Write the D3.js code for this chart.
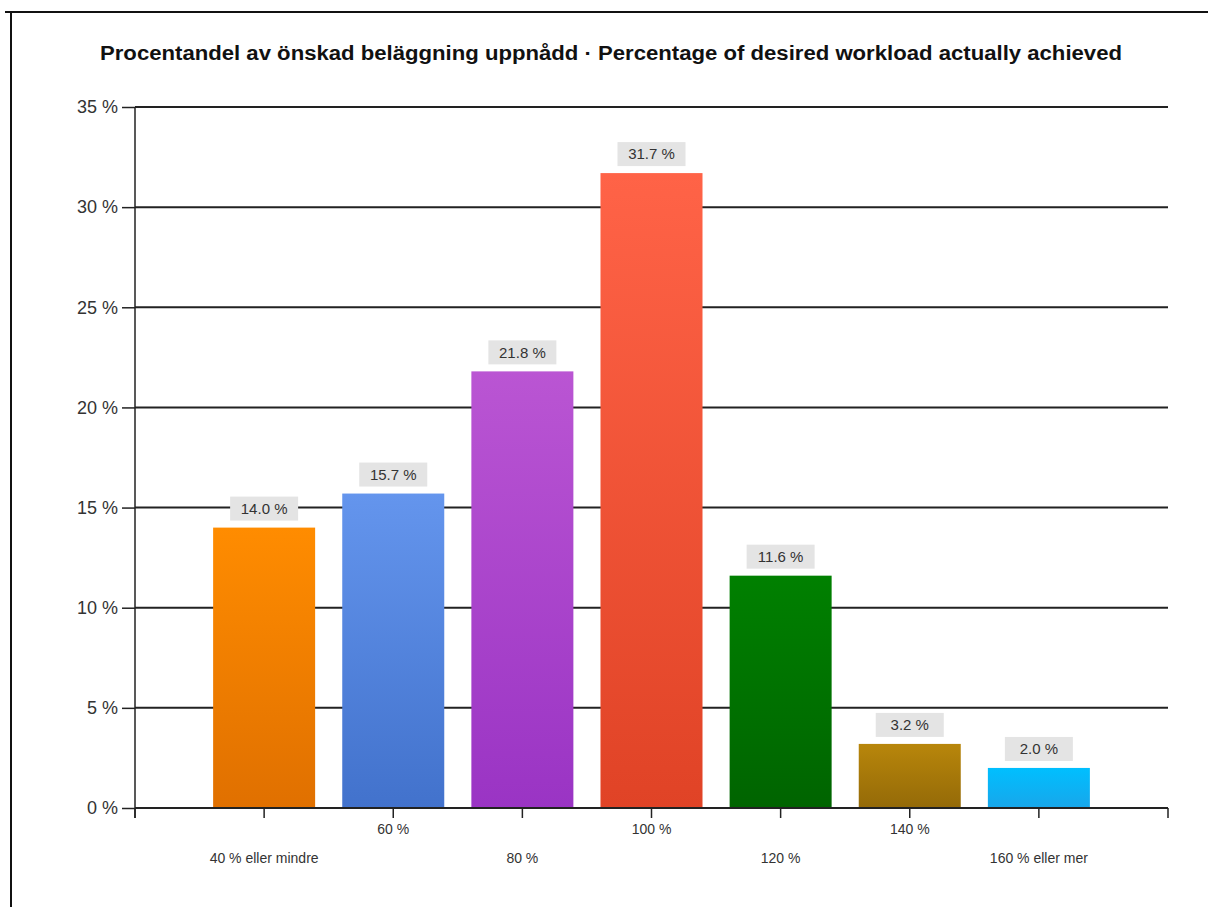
<!DOCTYPE html>
<html>
<head>
<meta charset="utf-8">
<script src="https://cdn.jsdelivr.net/npm/d3@7/dist/d3.min.js"></script>
<style>
  html, body { margin: 0; padding: 0; background: #fff; }
  svg { display: block; font-family: "Liberation Sans", Arial, sans-serif; }
</style>
</head>
<body>
<svg id="chart" width="1208" height="907"></svg>
<script>
// Workload achieved vs. desired, share of respondents
const categories = ["40 % eller mindre", "60 %", "80 %", "100 %", "120 %", "140 %", "160 % eller mer"];
const values = [14.0, 15.7, 21.8, 31.7, 11.6, 3.2, 2.0];
const colorsTop = ["#ff8c00", "#6495ed", "#ba55d3", "#ff6347", "#008000", "#b8860b", "#00bfff"];
const colorsBottom = ["#e07000", "#4272cc", "#9a34c4", "#e04326", "#006400", "#946a08", "#18a6ea"];
const yTicks = [0, 5, 10, 15, 20, 25, 30, 35];
const title = "Procentandel av önskad beläggning uppnådd · Percentage of desired workload actually achieved";

const svg = d3.select("#chart");

// outer frame (top and left edges are visible)
svg.append("line").attr("x1", 5).attr("x2", 1208).attr("y1", 12).attr("y2", 12)
  .attr("stroke", "#111").attr("stroke-width", 2);
svg.append("line").attr("x1", 11).attr("x2", 11).attr("y1", 12).attr("y2", 907)
  .attr("stroke", "#111").attr("stroke-width", 2);

const plot = { left: 135, right: 1168, top: 107, bottom: 808 };

const x = d3.scaleLinear().domain([0, categories.length + 1]).range([plot.left, plot.right]);
const y = d3.scaleLinear().domain([0, 35]).range([plot.bottom, plot.top]);
const step = x(1) - x(0);
const barW = step * 0.79;

// gradients
const defs = svg.append("defs");
values.forEach((v, i) => {
  const g = defs.append("linearGradient").attr("id", "g" + i)
    .attr("x1", 0).attr("y1", 0).attr("x2", 0).attr("y2", 1);
  g.append("stop").attr("offset", "0%").attr("stop-color", colorsTop[i]);
  g.append("stop").attr("offset", "100%").attr("stop-color", colorsBottom[i]);
});

// title
svg.append("text").attr("x", 611).attr("y", 60).attr("text-anchor", "middle")
  .attr("font-weight", "bold").attr("font-size", 20).attr("fill", "#111")
  .attr("textLength", 1022).attr("lengthAdjust", "spacingAndGlyphs")
  .text(title);

// horizontal grid lines + y axis ticks
const yAxis = d3.axisLeft(y).tickValues(yTicks).tickSize(13).tickFormat(d => d + " %");
const gy = svg.append("g").attr("transform", `translate(${plot.left},0)`).call(yAxis);
gy.select(".domain").remove();
gy.selectAll(".tick line").attr("stroke", "#222").attr("stroke-width", 1.5);
gy.selectAll(".tick text").attr("font-size", 18).attr("fill", "#333").attr("x", -17)
  .attr("font-family", "'Liberation Sans', Arial, sans-serif");

svg.append("g").selectAll("line").data(yTicks.filter(d => d > 0)).join("line")
  .attr("x1", plot.left).attr("x2", plot.right)
  .attr("y1", d => y(d)).attr("y2", d => y(d))
  .attr("stroke", "#222").attr("stroke-width", 2);

// y axis line
svg.append("line").attr("x1", plot.left).attr("x2", plot.left)
  .attr("y1", plot.top).attr("y2", plot.bottom + 10)
  .attr("stroke", "#222").attr("stroke-width", 1.5);

// bars
svg.append("g").selectAll("rect").data(values).join("rect")
  .attr("x", (d, i) => x(i + 1) - barW / 2)
  .attr("width", barW)
  .attr("y", d => y(d))
  .attr("height", d => y(0) - y(d))
  .attr("fill", (d, i) => `url(#g${i})`);

// x axis
svg.append("line").attr("x1", plot.left).attr("x2", plot.right)
  .attr("y1", plot.bottom).attr("y2", plot.bottom)
  .attr("stroke", "#222").attr("stroke-width", 2);
const xTickPos = d3.range(0, categories.length + 2);
svg.append("g").selectAll("line").data(xTickPos).join("line")
  .attr("x1", d => x(d)).attr("x2", d => x(d))
  .attr("y1", plot.bottom).attr("y2", plot.bottom + 10)
  .attr("stroke", "#222").attr("stroke-width", 1.5);

// category labels, staggered in two rows
svg.append("g").selectAll("text").data(categories).join("text")
  .attr("x", (d, i) => x(i + 1))
  .attr("y", (d, i) => i % 2 === 1 ? 834 : 863)
  .attr("text-anchor", "middle").attr("font-size", 14).attr("fill", "#333")
  .text(d => d);

// value labels with grey backgrounds
const lab = svg.append("g").selectAll("g").data(values).join("g")
  .attr("transform", (d, i) => `translate(${x(i + 1)},${y(d) - 19})`);
lab.append("rect").attr("x", -34).attr("y", -12).attr("width", 68).attr("height", 24)
  .attr("fill", "#e4e4e4");
lab.append("text").attr("text-anchor", "middle").attr("dy", "0.35em")
  .attr("font-size", 15).attr("fill", "#333")
  .text(d => d.toFixed(1) + " %");
</script>
</body>
</html>
